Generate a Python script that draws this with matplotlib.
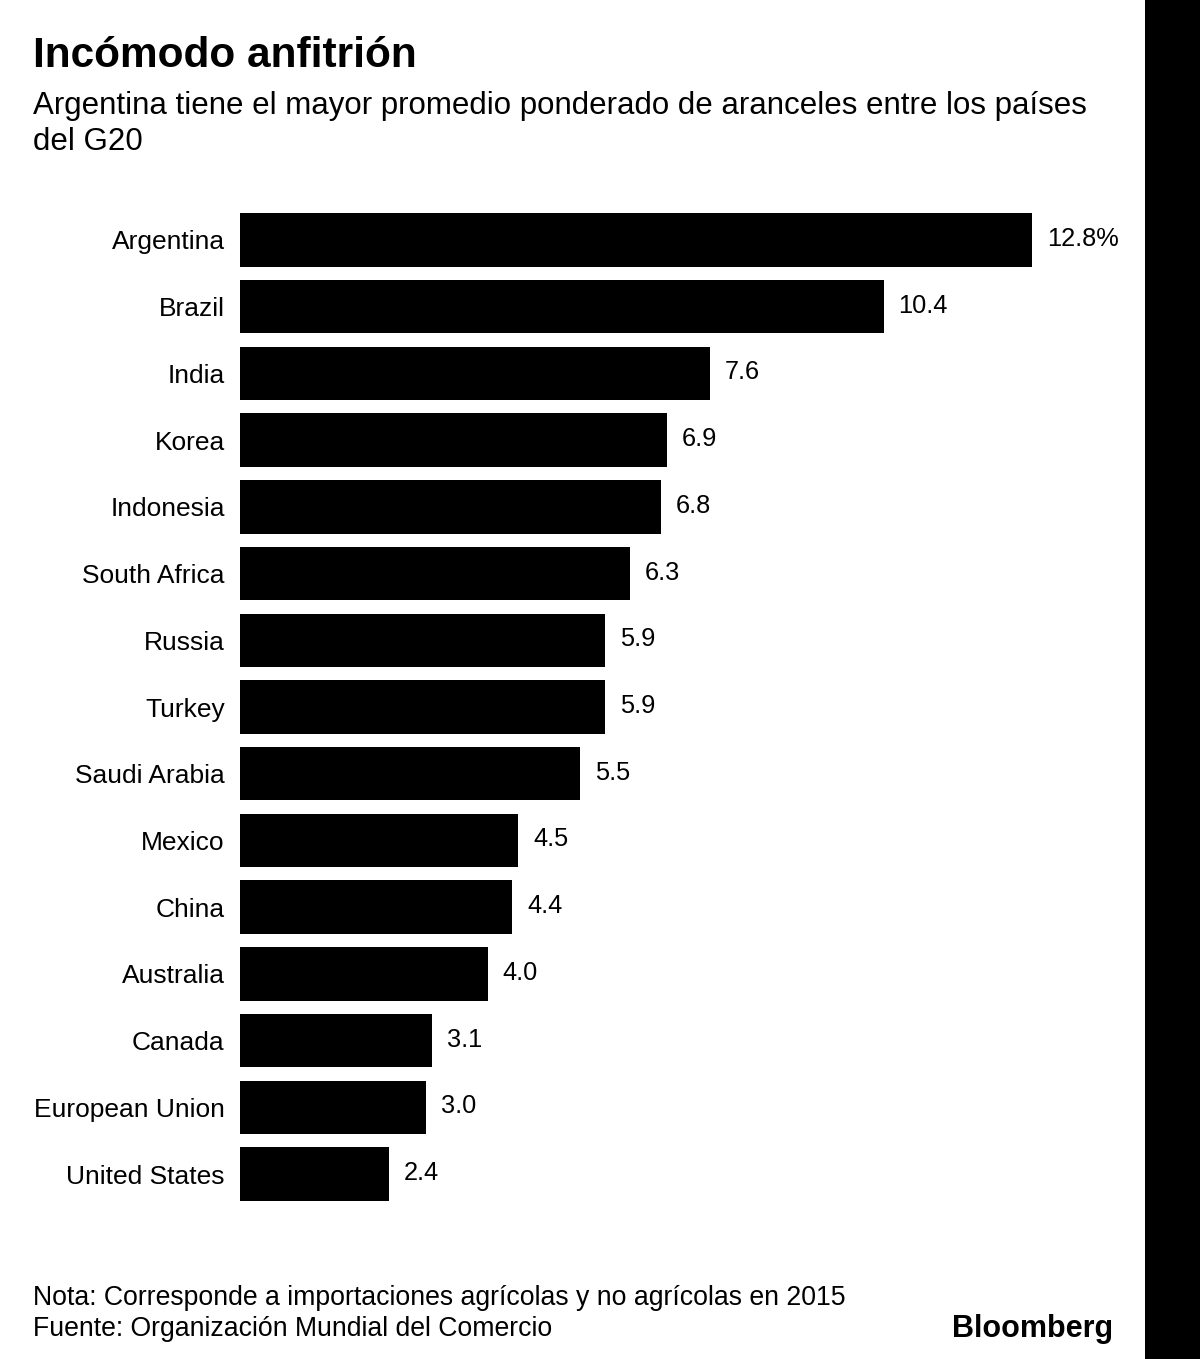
import matplotlib.pyplot as plt

plt.rcParams['font.family'] = ['Liberation Sans', 'DejaVu Sans']

paises = ["Argentina", "Brazil", "India", "Korea", "Indonesia", "South Africa", "Russia",
          "Turkey", "Saudi Arabia", "Mexico", "China", "Australia", "Canada",
          "European Union", "United States"]
aranceles = [12.8, 10.4, 7.6, 6.9, 6.8, 6.3, 5.9, 5.9, 5.5, 4.5, 4.4, 4.0, 3.1, 3.0, 2.4]
etiquetas = ["12.8%"] + ["%.1f" % v for v in aranceles[1:]]

W, H = 1200, 1359
fig = plt.figure(figsize=(W / 100, H / 100), dpi=100)
fig.patch.set_facecolor('white')

# franja negra a la derecha
fig.patches.append(plt.Rectangle((1145 / W, 0), 1 - 1145 / W, 1, transform=fig.transFigure,
                                 facecolor='black', edgecolor='none'))

ax = fig.add_axes([240 / W, 1 - 1207.4 / H, 900 / W, 1000.8 / H])
y = range(len(paises))
ax.barh(y, aranceles, height=0.8, color='black')
ax.set_xlim(0, 900 / 61.875)
ax.set_ylim(len(paises) - 0.5, -0.5)
for s in ax.spines.values():
    s.set_visible(False)
ax.set_xticks([])
ax.set_yticks(list(y))
ax.set_yticklabels(paises, fontsize=19)
ax.tick_params(axis='y', length=0, pad=11)

for i, (v, t) in enumerate(zip(aranceles, etiquetas)):
    ax.annotate(t, (v, i), xytext=(15, 1), textcoords='offset pixels',
                va='center', ha='left', fontsize=18.3)

fig.text(33 / W, 1 - 56 / H, "Incómodo anfitrión", fontsize=30.5, fontweight='bold',
         va='center', ha='left')
fig.text(33 / W, 1 - 106 / H, "Argentina tiene el mayor promedio ponderado de aranceles entre los países",
         fontsize=22.5, va='center', ha='left')
fig.text(33 / W, 1 - 142 / H, "del G20", fontsize=22.5, va='center', ha='left')

fig.text(33 / W, 1 - 1298 / H, "Nota: Corresponde a importaciones agrícolas y no agrícolas en 2015",
         fontsize=19.2, va='center', ha='left')
fig.text(33 / W, 1 - 1329 / H, "Fuente: Organización Mundial del Comercio",
         fontsize=19.2, va='center', ha='left')
fig.text(1113 / W, 1 - 1329 / H, "Bloomberg", fontsize=22, fontweight='bold',
         va='center', ha='right')

fig.savefig("out.png", dpi=100)
